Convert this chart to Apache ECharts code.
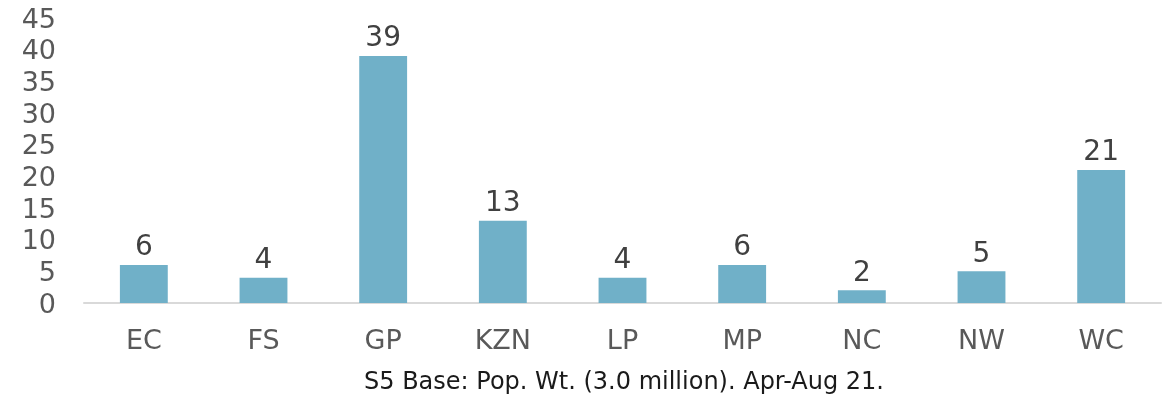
<!DOCTYPE html>
<html>
<head>
<meta charset="utf-8">
<script src="https://cdn.jsdelivr.net/npm/echarts@6/dist/echarts.min.js"></script>
<style>
  html, body { margin: 0; padding: 0; background: #fff; }
  #chart { width: 1173px; height: 398px; }
</style>
</head>
<body>
<div id="chart"></div>
<script>
// Provinces and their share values
const categories = ['EC', 'FS', 'GP', 'KZN', 'LP', 'MP', 'NC', 'NW', 'WC'];
const values = [6, 4, 39, 13, 4, 6, 2, 5, 21];
const baseNote = 'S5 Base: Pop. Wt. (3.0 million). Apr-Aug 21.';

const FONT = '"DejaVu Sans", Verdana, sans-serif';

const chart = echarts.init(document.getElementById('chart'));
chart.setOption({
  animation: false,
  backgroundColor: '#ffffff',
  grid: { left: 84, right: 12, top: 18, bottom: 95, containLabel: false },
  title: {
    text: baseNote,
    left: 619,
    textAlign: 'center',
    top: 366,
    textStyle: { fontFamily: FONT, fontSize: 24, fontWeight: 'normal', color: '#1a1a1a' }
  },
  xAxis: {
    type: 'category',
    data: categories,
    axisLine: { lineStyle: { color: '#d9d9d9', width: 2 } },
    axisTick: { show: false },
    axisLabel: { fontFamily: FONT, fontSize: 27, color: '#595959', margin: 25 }
  },
  yAxis: {
    type: 'value',
    min: 0,
    max: 45,
    interval: 5,
    splitLine: { show: false },
    axisLine: { show: false },
    axisTick: { show: false },
    axisLabel: {
      fontFamily: FONT,
      fontSize: 27,
      color: '#595959',
      margin: 28,
      formatter: '{v|{value}}',
      rich: { v: { fontFamily: FONT, fontSize: 27, color: '#595959', padding: [5, 0, 0, 0] } }
    }
  },
  series: [{
    type: 'bar',
    data: values,
    barWidth: '40%',
    itemStyle: { color: '#70b0c8' },
    label: {
      show: true,
      position: 'top',
      distance: 3,
      fontFamily: FONT,
      fontSize: 28,
      color: '#404040'
    }
  }]
});
</script>
</body>
</html>
